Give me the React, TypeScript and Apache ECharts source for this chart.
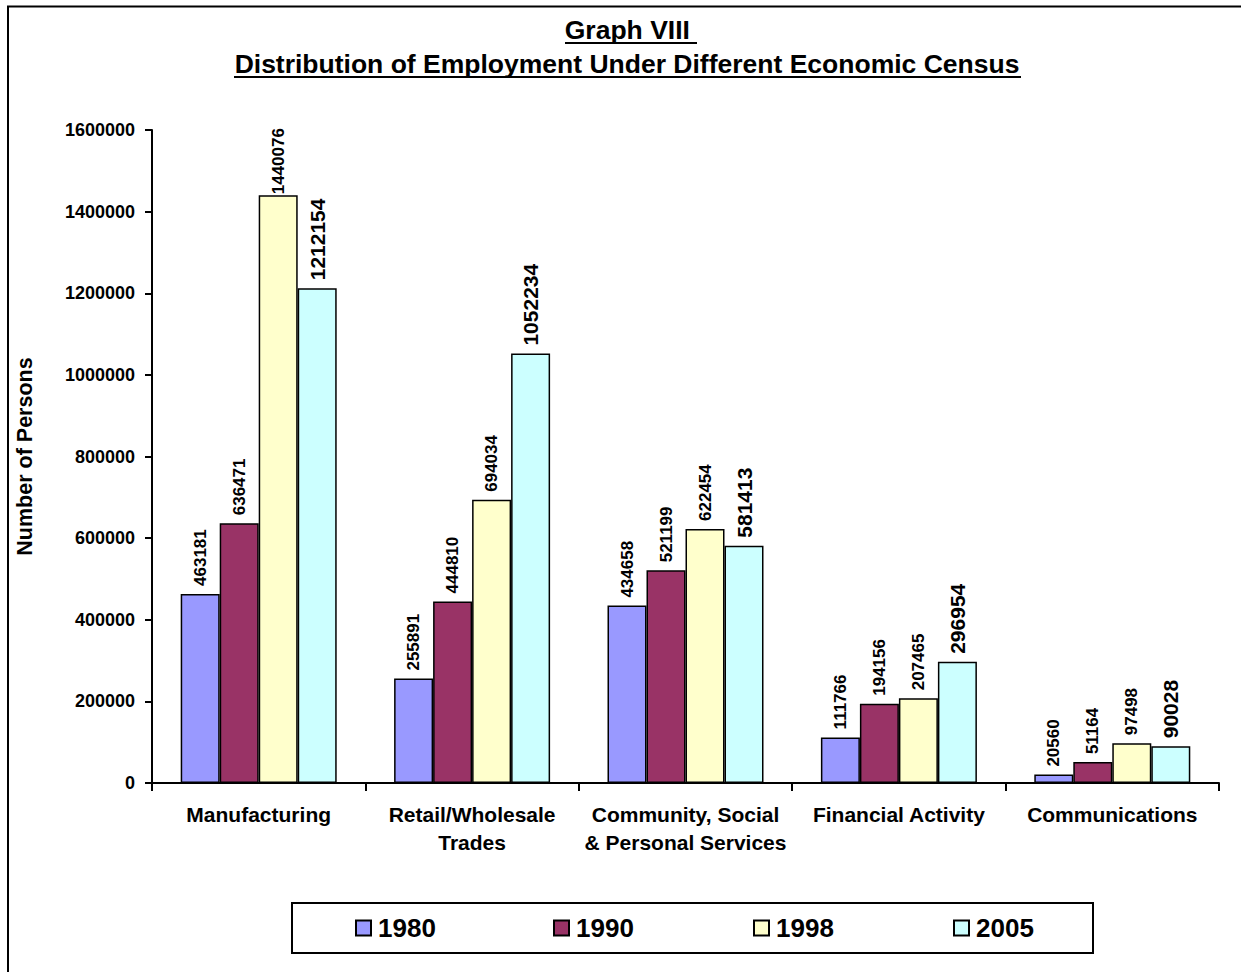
import React, { useEffect, useRef } from "react";
import * as echarts from "echarts";

const categories = [
  "Manufacturing",
  "Retail/Wholesale\nTrades",
  "Community, Social\n& Personal Services",
  "Financial Activity",
  "Communications",
];
const years = ["1980", "1990", "1998", "2005"];
const v1980 = [463181, 255891, 434658, 111766, 20560];
const v1990 = [636471, 444810, 521199, 194156, 51164];
const v1998 = [1440076, 694034, 622454, 207465, 97498];
const v2005 = [1212154, 1052234, 581413, 296954, 90028];
const seriesValues = [v1980, v1990, v1998, v2005];
const colors = ["#9999FF", "#993366", "#FFFFCC", "#CCFFFF"];
const labelSizes = [17, 17, 17, 21];
const legendLefts = [350, 548, 748, 948];

const FONT = "'Liberation Sans', Arial, sans-serif";

export default function App() {
  const ref = useRef<HTMLDivElement>(null);
  useEffect(() => {
    if (!ref.current) return;
    const chart = echarts.init(ref.current, undefined, { renderer: "svg" });
    const option: any = {
      animation: false,
      backgroundColor: "#fff",
      textStyle: { fontFamily: FONT, color: "#000" },
      grid: { left: 152, right: 22, top: 130, bottom: 189, containLabel: false },
      xAxis: {
        type: "category",
        data: categories,
        axisLine: { show: true, lineStyle: { color: "#000", width: 2 } },
        axisTick: { show: true, alignWithLabel: false, length: 8, lineStyle: { color: "#000", width: 2 } },
        axisLabel: {
          interval: 0,
          fontSize: 21,
          fontWeight: "bold",
          color: "#000",
          fontFamily: FONT,
          lineHeight: 28,
          margin: 17,
        },
      },
      yAxis: {
        type: "value",
        min: 0,
        max: 1600000,
        interval: 200000,
        name: "Number of Persons",
        nameLocation: "middle",
        nameGap: 116,
        nameRotate: 90,
        nameTextStyle: { fontSize: 21.5, fontWeight: "bold", color: "#000", fontFamily: FONT },
        axisLine: { show: true, lineStyle: { color: "#000", width: 2 } },
        axisTick: { show: true, length: 7, lineStyle: { color: "#000", width: 2 } },
        splitLine: { show: false },
        axisLabel: {
          fontSize: 18,
          fontWeight: "bold",
          color: "#000",
          fontFamily: FONT,
          margin: 17,
          formatter: (v: number) => String(v),
        },
      },
      legend: years.map((y, i) => ({
        data: [y],
        left: legendLefts[i],
        top: 910,
        itemWidth: 15,
        itemHeight: 15,
        icon: "rect",
        selectedMode: false,
        textStyle: { fontSize: 26, fontWeight: "bold", color: "#000", fontFamily: FONT, padding: [0, 0, 0, 2] },
      })),
      series: years.map((y, i) => ({
        name: y,
        type: "bar",
        data: seriesValues[i].map((v) => (v > 1400000 ? { value: v, label: { distance: 1 } } : v)),
        barWidth: 39,
        barGap: "0%",
        itemStyle: { color: colors[i], borderColor: "#000", borderWidth: 1.5 },
        label: {
          show: true,
          position: "top",
          rotate: 90,
          align: "left",
          verticalAlign: "middle",
          distance: 8,
          fontSize: labelSizes[i],
          fontWeight: "bold",
          color: "#000",
          fontFamily: FONT,
        },
      })),
      graphic: [
        {
          type: "rect",
          shape: { x: 8, y: 6.5, width: 1260, height: 1000 },
          style: { fill: "none", stroke: "#000", lineWidth: 2 },
          silent: true,
          z: -1,
        },
        {
          type: "rect",
          shape: { x: 292, y: 903, width: 801, height: 50 },
          style: { fill: "#fff", stroke: "#000", lineWidth: 2 },
          silent: true,
          z: -1,
        },
        {
          type: "text",
          x: 631,
          y: 30,
          style: {
            text: "Graph VIII ",
            font: `bold 26.5px ${FONT}`,
            fill: "#000",
            align: "center",
            verticalAlign: "middle",
          },
        },
        {
          type: "line",
          shape: { x1: 565, y1: 43, x2: 697, y2: 43 },
          style: { stroke: "#000", lineWidth: 2 },
        },
        {
          type: "text",
          x: 627,
          y: 64,
          style: {
            text: "Distribution of Employment Under Different Economic Census",
            font: `bold 26.5px ${FONT}`,
            fill: "#000",
            align: "center",
            verticalAlign: "middle",
          },
        },
        {
          type: "line",
          shape: { x1: 234, y1: 77, x2: 1021, y2: 77 },
          style: { stroke: "#000", lineWidth: 2 },
        },
      ],
    };
    chart.setOption(option);
    return () => chart.dispose();
  }, []);
  return (
    <div
      ref={ref}
      style={{ position: "absolute", left: 0, top: 0, width: 1241, height: 972 }}
    />
  );
}
